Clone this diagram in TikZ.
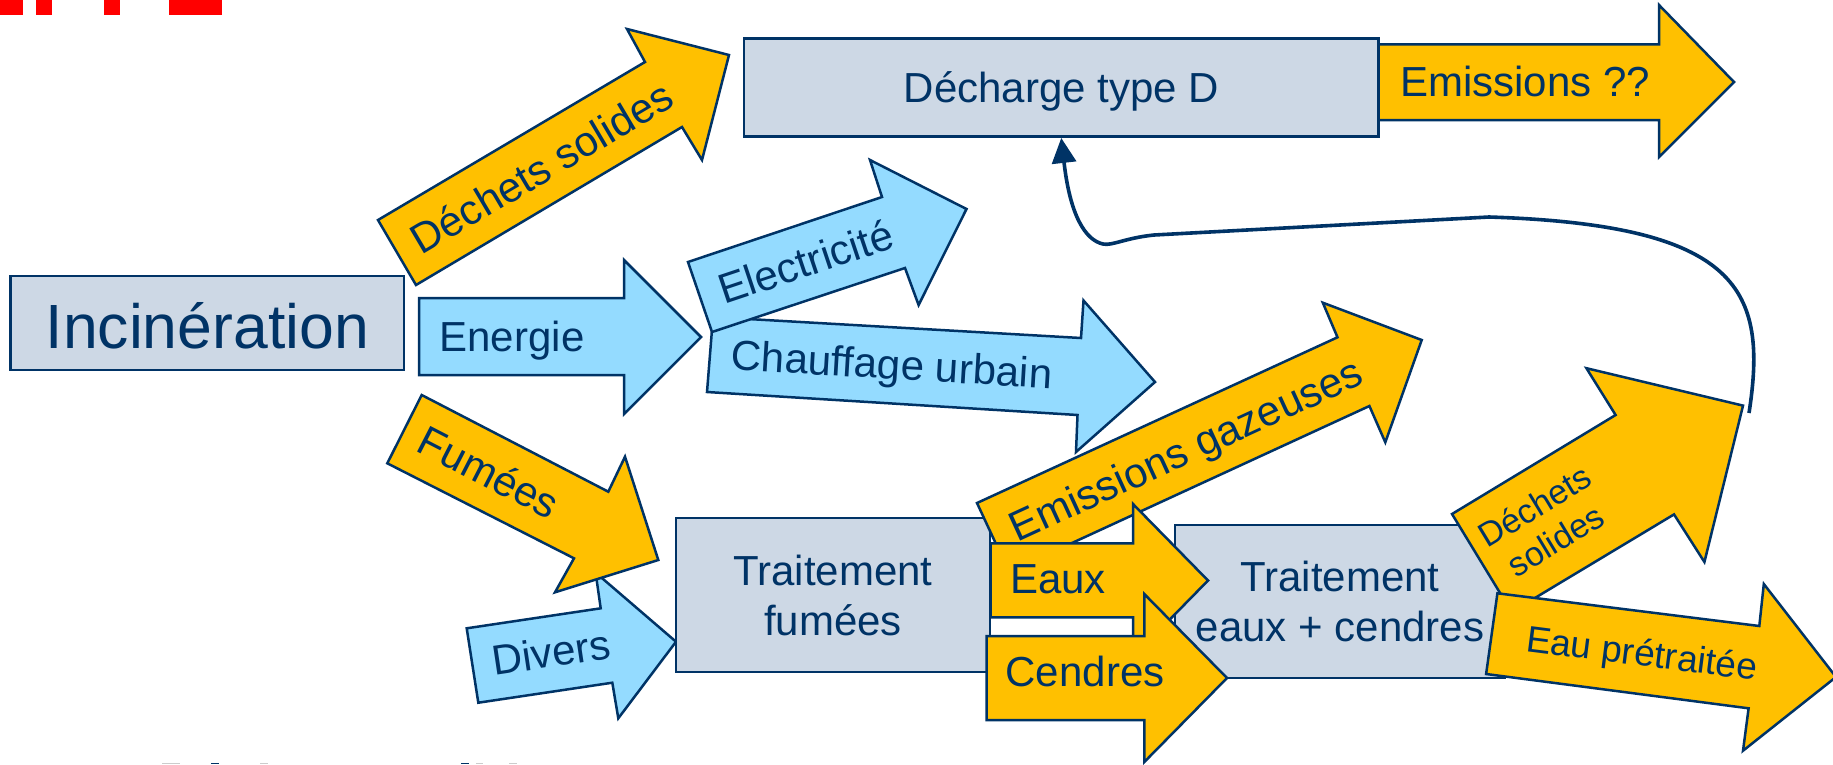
\documentclass[tikz,border=0pt]{standalone}
\usepackage{fontspec}
\setmainfont{Liberation Sans}
\usetikzlibrary{arrows.meta}
\definecolor{navy}{RGB}{0,51,102}
\definecolor{boxfill}{RGB}{205,216,229}
\definecolor{orng}{RGB}{255,192,0}
\definecolor{lblue}{RGB}{148,219,255}
\begin{document}
\begin{tikzpicture}[x=1pt,y=-1pt,
  outl/.style={draw=navy, line width=2.5pt, line join=miter},
  orarrow/.style={outl, fill=orng},
  blarrow/.style={outl, fill=lblue},
  boxnode/.style={draw=navy, line width=2.5pt, fill=boxfill, inner sep=0pt, align=center, text=navy, font=\fontsize{42}{50}\selectfont},
  lbl/.style={text=navy, inner sep=0pt, font=\fontsize{42}{50}\selectfont, text height=30.1pt, text depth=0pt},
  conn/.style={draw=navy, line width=3.6pt, -{Triangle[length=25pt,width=24pt]}}
]
\fill[white] (0,0) rectangle (1833,764);
\useasboundingbox (0,0) rectangle (1833,764);
% cut-off fragments at the edges
\fill[red] (0,0) rectangle (22.7,14.7);
\fill[red] (36,0) rectangle (52.3,14.7);
\fill[red] (104.3,0) rectangle (120,14.7);
\fill[red] (169,0) rectangle (221.7,14.7);
\fill[black!20] (161.7,762.5) rectangle (179.7,764);
\fill[navy] (211,762.5) rectangle (219,764);
\fill[black!20] (260,762.5) rectangle (268,764);
\fill[navy] (461,762.5) rectangle (469,764);
\fill[black!20] (476,762.5) rectangle (483,764);
\fill[black!20] (509,762.5) rectangle (517,764);

% Incineration
\node[boxnode, minimum width=393.5pt, minimum height=94pt, font=\fontsize{62.5}{70}\selectfont, text height=50.3pt, text depth=0pt] (inc) at (207.25,323) {Incinération};

% Emissions ?? arrow and Decharge box
\draw[orarrow] (1378.5,44.3) -- (1659,44.3) -- (1659,5) -- (1734,82) -- (1659,157) -- (1659,120) -- (1378.5,120) -- cycle;
\node[lbl] (tEmis) at (1525,81.3) {Emissions ??};
\node[boxnode, minimum width=634.5pt, minimum height=98.4pt, text height=30.7pt, text depth=0pt] (dech) at (1061.25,87.5) {Décharge type D};

% Dechets solides (left)
\draw[orarrow] (378,220) -- (645,62) -- (627,29) -- (729,55) -- (702,160) -- (682,127) -- (416,285) -- cycle;
\node[lbl, rotate=30.6] (tDS1) at (541.7,167.5) {Déchets solides};

% Energie
\draw[blarrow] (419,298) -- (624,298) -- (624,260) -- (701,337) -- (624,414) -- (624,375) -- (419,375) -- cycle;
\node[lbl] (tEnergie) at (512,336) {Energie};

% Chauffage urbain
\draw[blarrow] (713,317) -- (1081,338) -- (1083.5,300.5) -- (1155,382) -- (1076,452) -- (1077.5,415) -- (707,392) -- cycle;
\node[lbl, rotate=-3.4] (tChauf) at (892,364) {Chauffage urbain};

% Electricite
\draw[blarrow] (688,262) -- (882,197) -- (870,160) -- (966.5,209) -- (918.6,305) -- (905,268) -- (712,332) -- cycle;
\node[lbl, rotate=18.5] (tElec) at (805.8,261.7) {Electricité};

% Divers
\draw[blarrow] (466.7,628.3) -- (600.7,608.3) -- (595.6,572.6) -- (676,641.7) -- (618.3,718.3) -- (612.3,682.7) -- (478.3,702.7) -- cycle;
\node[lbl, rotate=8.5] (tDiv) at (551,652) {Divers};

% Fumees
\draw[orarrow] (421.7,395) -- (608.3,491.7) -- (625,456.7) -- (658.3,560) -- (555,592.3) -- (574,558.3) -- (387.3,463.3) -- cycle;
\node[lbl, rotate=-27.2] (tFum) at (489,472) {Fumées};

% Traitement fumees
\node[boxnode, minimum width=314pt, minimum height=154pt] (tf) at (833,595) {Traitement\\fumées};

% Emissions gazeuses
\draw[orarrow] (977,503) -- (1337.5,337.3) -- (1322.8,302.7) -- (1421.7,340) -- (1385.3,442.3) -- (1369.4,406) -- (1009,572) -- cycle;
\node[lbl, rotate=24.7] (tEG) at (1185.5,449) {Emissions gazeuses};

% Traitement eaux + cendres
\node[boxnode, minimum width=330pt, minimum height=153pt] (te) at (1340,601.5) {Traitement\\eaux + cendres};

% Eaux
\draw[orarrow] (990.5,543.3) -- (1133,543.3) -- (1133,504) -- (1208,580.5) -- (1133,657) -- (1133,617.3) -- (990.5,617.3) -- cycle;
\node[lbl] (tEaux) at (1058,578.8) {Eaux};

% Cendres
\draw[orarrow] (986.6,636) -- (1144.3,636) -- (1144.3,594) -- (1227,678) -- (1144.3,762) -- (1144.3,720) -- (986.6,720) -- cycle;
\node[lbl] (tCend) at (1085,671.7) {Cendres};

% Dechets solides (right)
\draw[orarrow] (1452,514) -- (1615.6,415) -- (1586.4,368.2) -- (1743,405.6) -- (1704.4,562) -- (1674,514.4) -- (1511.6,612) -- cycle;
\node[text=navy, inner sep=0pt, align=center, font=\fontsize{34}{40}\selectfont, rotate=31.2] (tDS2) at (1545,523) {Déchets\\solides};
\coordinate (ds2tip) at (1749,413);

% Eau pretraitee
\draw[orarrow] (1497.4,593.3) -- (1759.3,626) -- (1763.8,584) -- (1836,677) -- (1743,750.7) -- (1748.6,708.3) -- (1486.1,674) -- cycle;
\node[lbl, font=\fontsize{37}{44}\selectfont, text height=26.5pt, rotate=-7.2] (tEP) at (1642,652.6) {Eau prétraitée};

% return connector to the landfill
\draw[conn] (ds2tip) .. controls (1768,290) and (1740,225) .. (1489,217) -- (1154,235) .. controls (1125,238) and (1112,246) .. (1103,244) .. controls (1085,240) and (1070,215) .. (dech.south);
\end{tikzpicture}
\end{document}
